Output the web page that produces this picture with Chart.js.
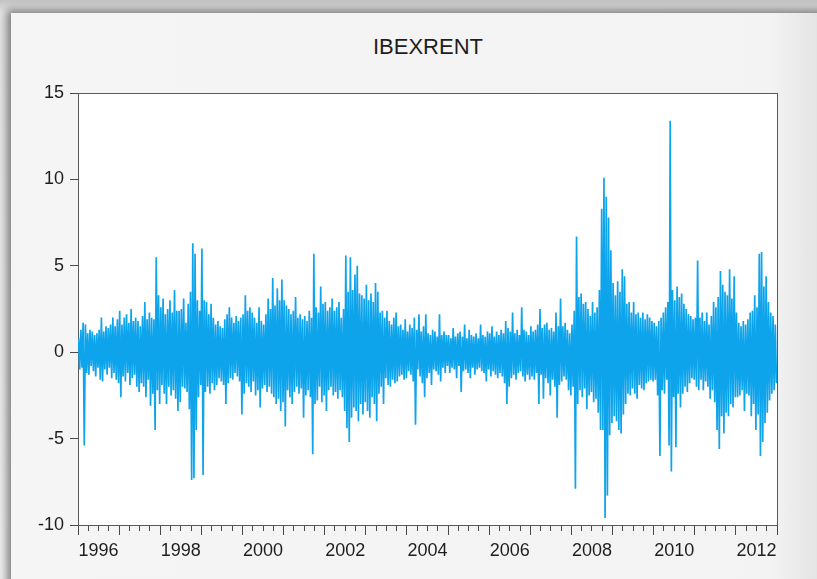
<!DOCTYPE html>
<html>
<head>
<meta charset="utf-8">
<script src="https://cdn.jsdelivr.net/npm/chart.js@4.4.1/dist/chart.umd.min.js"></script>
<style>
html,body{margin:0;padding:0;width:817px;height:579px;overflow:hidden;background:#e4e4e4;}
#bg{position:absolute;left:0;top:0;width:817px;height:579px;background:linear-gradient(#c2c2c2 0px,#e2e2e2 12px,#ececec 100%);}
#panel{position:absolute;left:11px;top:13px;width:830px;height:600px;
  background:linear-gradient(to right,#f5f5f5 0px,#f3f3f3 760px,#e4e4e4 806px);
  box-shadow:-3px -2px 8px 1px rgba(0,0,0,0.45);}
#plotbg{position:absolute;left:78px;top:93px;width:699px;height:432px;background:#ffffff;}
#title{position:absolute;left:278px;top:34px;width:300px;text-align:center;
  font-family:'Liberation Sans',Arial,Helvetica,sans-serif;font-size:22px;line-height:26px;color:#1e1e1e;}
#c{position:absolute;left:0;top:0;}
</style>
</head>
<body>
<div id="bg"></div>
<div id="panel"></div>
<div id="plotbg"></div>
<div id="title"></div>
<canvas id="c" width="817" height="579"></canvas>
<script>
// ---- data (IBEXRENT; ~3 readings per month, alternating highs/lows) ----
const years = [1996,1997,1998,1999,2000,2001,2002,2003,2004,2005,2006,2007,2008,2009,2010,2011,2012];
const r1996 = [0.8,-1.0,1.3,-0.9,1.7,-5.4,1.6,-1.2,1.1,-1.3,1.3,-0.8,1.2,-1.1,1.0,-1.4,1.1,-0.9,1.3,-1.6,2.0,-1.7,1.2,-1.0,1.5,-1.3,1.4,-0.9,1.6,-1.5,2.0,-1.2,1.5,-1.6,1.9,-1.8];
const r1997 = [2.4,-2.6,1.6,-1.4,2.0,-1.7,2.2,-1.2,1.7,-1.9,2.5,-1.5,1.8,-1.3,2.0,-2.0,1.8,-2.3,1.5,-1.8,2.1,-2.0,2.9,-2.6,1.9,-1.6,2.3,-3.1,2.0,-2.4,1.9,-4.5,5.5,-2.2,3.3,-3.0];
const r1998 = [2.6,-1.9,3.1,-2.4,2.2,-3.0,2.5,-2.0,3.0,-2.5,2.3,-2.2,3.6,-2.7,2.4,-3.4,2.4,-2.9,2.5,-2.0,3.1,-2.1,1.7,-2.3,2.8,-3.3,3.5,-7.4,6.3,-7.3,5.7,-4.5,3.0,-2.6,2.4,-1.9];
const r1999 = [6.0,-7.1,3.0,-2.3,2.9,-2.0,2.2,-2.4,2.8,-1.8,2.0,-2.2,1.6,-1.9,1.8,-1.5,1.5,-1.7,1.4,-1.9,1.9,-3.0,2.2,-1.8,2.6,-1.5,2.0,-1.6,1.7,-1.2,2.1,-1.4,1.8,-1.7,2.0,-3.6];
const r2000 = [2.2,-2.4,3.3,-1.8,2.4,-2.0,2.6,-2.3,2.3,-1.7,2.0,-2.5,1.7,-2.2,2.6,-3.2,1.8,-2.1,1.6,-1.9,2.2,-2.3,3.1,-2.0,2.5,-2.4,4.3,-2.6,2.7,-3.0,3.7,-2.7,3.0,-3.4,4.2,-2.9];
const r2001 = [3.0,-4.3,2.7,-2.2,2.5,-2.6,2.2,-3.0,2.4,-2.3,3.2,-2.0,2.0,-2.4,2.2,-2.1,1.9,-3.8,2.1,-2.5,1.8,-2.2,2.4,-2.6,2.0,-5.9,5.7,-3.0,2.6,-2.8,2.3,-2.0,3.8,-2.9,2.8,-2.5];
const r2002 = [2.9,-3.4,2.4,-2.2,2.6,-2.0,3.1,-2.5,2.4,-2.3,2.6,-2.7,2.9,-2.2,2.0,-2.6,2.5,-3.4,5.6,-4.4,3.5,-5.2,5.5,-3.8,3.6,-3.2,4.5,-3.4,5.0,-4.0,3.4,-3.0,3.3,-3.6,3.1,-2.9];
const r2003 = [3.9,-3.4,3.0,-3.8,3.4,-2.6,2.9,-3.0,4.0,-4.0,3.5,-2.4,2.3,-2.0,2.4,-3.0,2.0,-1.5,2.4,-1.9,1.8,-2.0,1.6,-1.6,2.0,-1.8,2.3,-1.7,1.5,-1.4,1.6,-1.3,1.3,-1.6,1.9,-1.5];
const r2004 = [1.2,-1.1,1.6,-1.3,1.4,-1.7,2.0,-4.2,1.3,-1.0,2.2,-1.4,1.2,-1.8,1.5,-2.6,2.2,-1.5,1.1,-1.2,1.0,-1.9,1.3,-1.0,1.2,-1.1,0.9,-1.3,2.2,-1.7,1.0,-0.9,1.2,-1.2,1.0,-0.8];
const r2005 = [1.0,-1.2,0.8,-0.9,1.4,-1.0,0.9,-1.5,1.1,-0.8,1.2,-2.3,0.9,-1.1,1.6,-1.0,0.8,-1.2,1.3,-1.5,1.0,-0.9,0.9,-1.3,1.1,-1.0,0.8,-0.9,1.6,-1.1,1.0,-1.2,0.9,-1.7,1.2,-1.0];
const r2006 = [1.1,-1.4,1.5,-1.1,0.9,-1.3,1.2,-1.5,1.0,-1.2,1.3,-1.4,1.1,-1.8,1.8,-3.0,1.4,-2.0,1.2,-1.5,2.3,-1.3,1.1,-1.6,1.3,-1.2,1.0,-1.1,2.6,-1.4,1.3,-1.7,1.2,-1.3,1.0,-1.6];
const r2007 = [1.5,-1.4,1.2,-1.6,1.3,-1.2,1.6,-3.0,2.5,-1.3,1.4,-2.7,1.6,-1.5,1.7,-1.8,1.3,-2.5,1.4,-1.6,1.2,-2.0,2.3,-3.8,1.5,-1.9,3.1,-1.7,1.5,-1.4,1.7,-1.6,1.3,-2.2,1.1,-2.5];
const r2008 = [1.6,-2.0,2.4,-7.9,6.7,-3.0,3.2,-2.2,3.4,-2.6,2.8,-2.1,2.9,-3.3,2.5,-2.5,2.1,-2.3,2.9,-2.9,2.3,-2.7,2.6,-3.5,3.6,-4.5,8.3,-4.5,10.1,-9.6,9.0,-8.3,7.8,-4.8,5.9,-4.1];
const r2009 = [4.0,-3.7,3.3,-4.0,4.1,-4.5,3.5,-4.7,4.8,-3.6,4.4,-3.0,2.8,-2.4,2.9,-2.5,2.3,-2.1,2.9,-2.4,2.2,-2.7,2.3,-1.9,2.0,-2.1,2.3,-2.2,1.9,-1.8,2.2,-1.7,2.0,-1.6,1.8,-1.7];
const r2010 = [1.7,-1.6,1.5,-2.5,1.8,-6.0,2.0,-2.2,2.3,-2.4,2.6,-1.6,2.9,-5.4,13.4,-6.9,3.6,-2.6,3.0,-5.5,3.8,-2.4,3.2,-3.2,3.4,-2.4,2.8,-2.0,2.5,-2.3,2.2,-1.8,2.1,-1.5,1.9,-1.6];
const r2011 = [2.0,-2.0,5.3,-2.2,2.0,-1.6,2.3,-2.2,1.8,-1.7,2.3,-2.0,1.6,-2.7,2.1,-2.2,2.9,-2.9,2.6,-4.5,3.2,-5.6,4.7,-3.7,3.9,-4.7,3.5,-3.5,3.3,-3.7,4.8,-3.0,3.1,-3.2,4.4,-2.6];
const r2012 = [2.3,-2.6,1.7,-2.5,1.5,-2.2,1.8,-3.4,1.6,-2.4,1.9,-2.5,2.3,-3.7,2.4,-3.0,3.3,-4.5,2.6,-3.6,5.7,-6.0,5.8,-5.2,3.8,-4.1,4.4,-3.5,2.9,-2.8,2.3,-2.4,2.1,-2.2,1.6,-1.8];
const seriesByYear = [r1996,r1997,r1998,r1999,r2000,r2001,r2002,r2003,r2004,r2005,r2006,r2007,r2008,r2009,r2010,r2011,r2012];

const xTickLabels = ['1996','1998','2000','2002','2004','2006','2008','2010','2012'];
const yTicks = [-10,-5,0,5,10,15];
const titleText = 'IBEXRENT';

document.getElementById('title').textContent = titleText;

// build points: each reading placed at its slot within its year
const points = [];
years.forEach((yr, k) => {
  const vals = seriesByYear[k];
  vals.forEach((v, i) => points.push({x: yr + (i + 0.5) / vals.length, y: v}));
});

const FONT = "'Liberation Sans', Arial, Helvetica, sans-serif";
const isInt = v => Math.abs(v - Math.round(v)) < 1e-6;

new Chart(document.getElementById('c'), {
  type: 'line',
  data: {
    datasets: [{
      data: points,
      borderColor: 'rgb(14,164,236)',
      borderWidth: 1.7,
      pointRadius: 0,
      tension: 0,
      fill: false
    }]
  },
  options: {
    responsive: false,
    animation: false,
    devicePixelRatio: 1,
    layout: {padding: {left: 0, right: 40, top: 93, bottom: 0}},
    plugins: {
      legend: {display: false},
      tooltip: {enabled: false},
      title: {display: false}
    },
    scales: {
      x: {
        type: 'linear',
        position: 'bottom',
        min: years[0],
        max: years[years.length - 1] + 1,
        afterBuildTicks: s => {
          const t = [];
          for (let q = 0; q <= years.length * 4; q++) t.push({value: years[0] + q / 4});
          s.ticks = t;
        },
        ticks: {
          autoSkip: false, maxRotation: 0, minRotation: 0, padding: 5,
          color: '#1e1e1e', font: {family: FONT, size: 18},
          callback: v => {
            const y = Math.floor(v + 1e-9);
            return (Math.abs(v - y - 0.5) < 1e-6 && xTickLabels.includes(String(y))) ? String(y) : '';
          }
        },
        grid: {
          drawOnChartArea: false, drawTicks: true, tickLength: 10,
          tickColor: '#4a4a4a', tickWidth: 1,
          tickBorderDash: c => (c.tick && isInt(c.tick.value)) ? [] : [5, 60]
        },
        border: {display: true, color: '#5a5a5a', width: 1},
        afterFit: s => { s.height = 54; }
      },
      xTop: {
        type: 'linear', position: 'top', min: 0, max: 1,
        ticks: {display: false},
        grid: {drawOnChartArea: false, drawTicks: false},
        border: {display: true, color: '#5a5a5a', width: 1},
        afterFit: s => { s.height = 0; }
      },
      y: {
        type: 'linear', position: 'left',
        min: yTicks[0], max: yTicks[yTicks.length - 1],
        afterBuildTicks: s => { s.ticks = yTicks.map(v => ({value: v})); },
        ticks: {color: '#1e1e1e', font: {family: FONT, size: 18}, padding: 6},
        grid: {drawOnChartArea: false, drawTicks: true, tickLength: 8, tickColor: '#4a4a4a', tickWidth: 1},
        border: {display: true, color: '#5a5a5a', width: 1},
        afterFit: s => { s.width = 78; }
      },
      yRight: {
        type: 'linear', position: 'right', min: 0, max: 1,
        ticks: {display: false},
        grid: {drawOnChartArea: false, drawTicks: false},
        border: {display: true, color: '#5a5a5a', width: 1},
        afterFit: s => { s.width = 0; }
      }
    }
  }
});
</script>
</body>
</html>
